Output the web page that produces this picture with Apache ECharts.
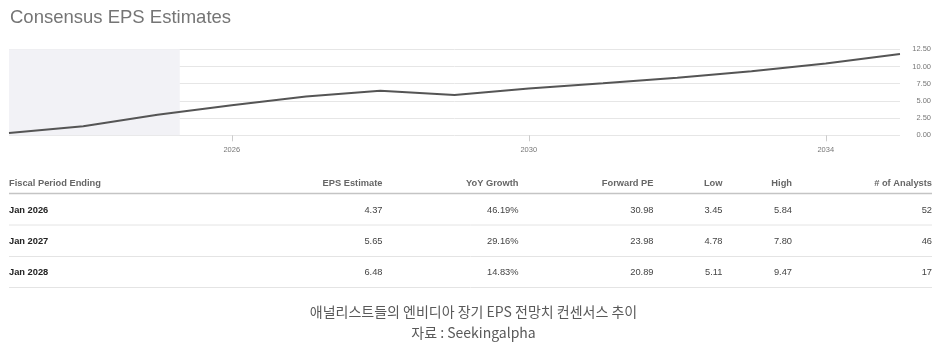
<!DOCTYPE html>
<html>
<head>
<meta charset="utf-8">
<title>Consensus EPS Estimates</title>
<script src="https://cdn.jsdelivr.net/npm/echarts@6/dist/echarts.min.js"></script>
<style>
  html, body { margin: 0; padding: 0; background: #ffffff; }
  #chart { width: 950px; height: 347px; }
</style>
</head>
<body>
<div id="chart"></div>
<script>
// Fiscal years (period ending January) and consensus EPS per year
const fiscalYears = [2023, 2024, 2025, 2026, 2027, 2028, 2029, 2030, 2031, 2032, 2033, 2034, 2035];
const epsValues   = [0.33, 1.30, 2.99, 4.37, 5.65, 6.48, 5.86, 6.80, 7.55, 8.35, 9.30, 10.45, 11.80];
// End of the reported (actual) period, shaded on the chart
const actualsEnd = 2025.3;
const xTickYears = [2026, 2030, 2034];
const yTicks = [0, 2.5, 5, 7.5, 10, 12.5];

// Estimates table
const tableHeaders = ['Fiscal Period Ending', 'EPS Estimate', 'YoY Growth', 'Forward PE', 'Low', 'High', '# of Analysts'];
const periods   = ['Jan 2026', 'Jan 2027', 'Jan 2028'];
const epsEst    = ['4.37', '5.65', '6.48'];
const yoyGrowth = ['46.19%', '29.16%', '14.83%'];
const forwardPE = ['30.98', '23.98', '20.89'];
const lowEst    = ['3.45', '4.78', '5.11'];
const highEst   = ['5.84', '7.80', '9.47'];
const analysts  = ['52', '46', '17'];

const captionLines = ['애널리스트들의 엔비디아 장기 EPS 전망치 컨센서스 추이', '자료 : Seekingalpha'];

const chart = echarts.init(document.getElementById('chart'), null, { renderer: 'canvas' });

const FONT = '"Liberation Sans", Arial, sans-serif';

// Table layout
const colX = [9, 382.5, 518.5, 653.5, 722.5, 792, 932];
const colAlign = ['left', 'right', 'right', 'right', 'right', 'right', 'right'];
const headerY = 183.5;
const headerLineY = 193.5;
const rowY = [210, 241.5, 272.5];
const rowLineY = [225, 256.5, 287.5];
const tableLeft = 9, tableRight = 932;

const columns = [periods, epsEst, yoyGrowth, forwardPE, lowEst, highEst, analysts];

const graphics = [];
tableHeaders.forEach((h, c) => {
  graphics.push({
    type: 'text', silent: true,
    style: {
      text: h, x: colX[c], y: headerY, align: colAlign[c], verticalAlign: 'middle',
      font: 'bold 9.3px ' + FONT, fill: '#666666'
    }
  });
});
graphics.push({
  type: 'line', silent: true,
  shape: { x1: tableLeft, y1: headerLineY, x2: tableRight, y2: headerLineY },
  style: { stroke: '#c4c4c4', lineWidth: 1.5 }
});
periods.forEach((p, r) => {
  columns.forEach((col, c) => {
    graphics.push({
      type: 'text', silent: true,
      style: {
        text: col[r], x: colX[c], y: rowY[r], align: colAlign[c], verticalAlign: 'middle',
        font: (c === 0 ? 'bold ' : '') + '9.3px ' + FONT,
        fill: c === 0 ? '#222222' : '#444444'
      }
    });
  });
  graphics.push({
    type: 'line', silent: true,
    shape: { x1: tableLeft, y1: rowLineY[r], x2: tableRight, y2: rowLineY[r] },
    style: { stroke: '#e4e4e4', lineWidth: 1 }
  });
});
captionLines.forEach((t, i) => {
  graphics.push({
    type: 'text', silent: true,
    style: {
      text: t, x: 473.5, y: 311.5 + i * 21, align: 'center', verticalAlign: 'middle',
      font: '14px "Noto Sans CJK KR", sans-serif', fill: '#595959'
    }
  });
});

const option = {
  backgroundColor: '#ffffff',
  animation: false,
  title: {
    text: 'Consensus EPS Estimates',
    left: 5, top: 3,
    textStyle: { fontFamily: FONT, fontSize: 18.5, fontWeight: 'normal', color: '#757575' }
  },
  grid: { left: 9, right: 50, top: 49.3, height: 86 },
  xAxis: {
    type: 'value',
    min: fiscalYears[0],
    max: fiscalYears[fiscalYears.length - 1],
    axisLine: { show: false },
    splitLine: { show: false },
    axisTick: { show: true, customValues: xTickYears, length: 6, lineStyle: { color: '#cccccc' } },
    axisLabel: {
      customValues: xTickYears,
      margin: 11,
      fontFamily: FONT, fontSize: 7.5, color: '#777777',
      formatter: v => String(v)
    }
  },
  yAxis: {
    type: 'value',
    position: 'right',
    min: yTicks[0],
    max: yTicks[yTicks.length - 1],
    interval: 2.5,
    axisLine: { show: false },
    axisTick: { show: false },
    splitLine: { lineStyle: { color: '#e6e6e6', width: 1 } },
    axisLabel: {
      align: 'right',
      margin: 31,
      fontFamily: FONT, fontSize: 7.5, color: '#777777',
      formatter: v => v.toFixed(2)
    }
  },
  series: [{
    type: 'line',
    data: fiscalYears.map((y, i) => [y, epsValues[i]]),
    symbol: 'none',
    smooth: false,
    lineStyle: { color: '#555555', width: 2 },
    markArea: {
      silent: true,
      itemStyle: { color: '#f2f2f6' },
      data: [[{ xAxis: fiscalYears[0] }, { xAxis: actualsEnd }]]
    },
    z: 3
  }],
  graphic: graphics
};

chart.setOption(option);
</script>
</body>
</html>
